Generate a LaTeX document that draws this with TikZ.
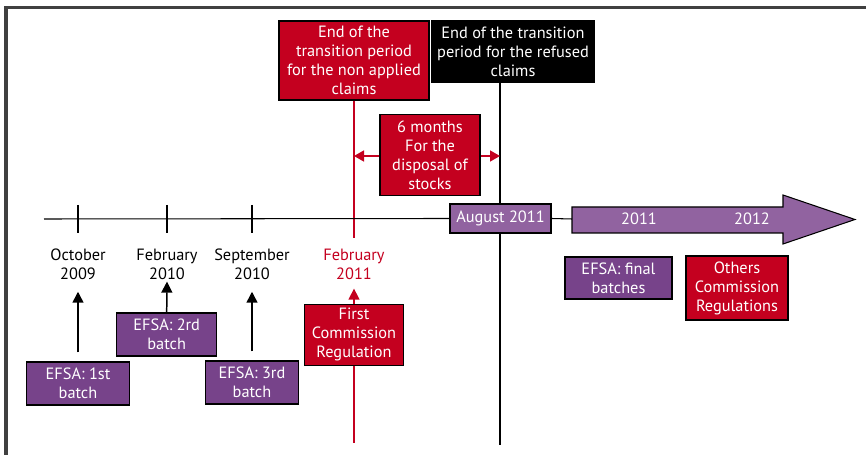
\documentclass[tikz,border=0pt]{standalone}
\usepackage{fontspec}
\setmainfont{PT Sans}
\usetikzlibrary{arrows.meta}

\definecolor{eured}{RGB}{196,0,31}
\definecolor{efsapurple}{RGB}{119,67,138}
\definecolor{lightpurple}{RGB}{145,99,160}
\definecolor{framegray}{RGB}{64,64,64}

\newcommand{\lblfont}{\fontsize{9.3}{10.8}\selectfont}

\tikzset{
  box/.style={draw=black, line width=0.6pt, text=white, align=center,
    inner sep=0pt, font=\lblfont},
  redbox/.style={box, fill=eured},
  purplebox/.style={box, fill=efsapurple},
  datelabel/.style={align=center, inner sep=0pt, font=\lblfont},
  uparrow/.style={-{Triangle[width=0.22cm,length=0.22cm]}, line width=0.85pt}
}

\begin{document}
\begin{tikzpicture}[x=0.02cm, y=-0.02cm]
  \useasboundingbox (0,0) rectangle (866,455);
  % frame
  \draw[framegray, line width=2.2pt] (6,455) -- (6,7.5) -- (866,7.5);

  % top boxes
  \node[redbox, minimum width=3cm, minimum height=1.58cm] (endred) at (354,60.5)
    {End of the\\transition period\\for the non applied\\claims};
  \node[box, fill=black, draw=black, minimum width=3.24cm, minimum height=1.22cm] (endblack) at (513,51.5)
    {End of the transition\\period for the refused\\claims};

  \coordinate (redend) at (354,443);
  \coordinate (blackend) at (500,445);
  \coordinate (lineleft) at (44,219);

  % vertical lines
  \draw[eured, line width=0.7pt] (endred.south) -- (354,238);
  \draw[black, line width=0.7pt] (endblack.south -| blackend) -- (blackend);

  % 6 months
  \draw[eured, line width=0.85pt, {Triangle[width=0.22cm,length=0.2cm]}-{Triangle[width=0.22cm,length=0.2cm]}]
    (354,156) -- (500,156);
  \node[redbox, minimum width=2cm, minimum height=1.62cm] (sixm) at (430,155)
    {6 months\\For the\\disposal of\\stocks};

  % timeline
  \node[box, fill=lightpurple, minimum width=2.02cm, minimum height=0.58cm] (aug) at (500.5,218.5) {August 2011};
  \draw[line width=0.6pt] (lineleft) -- (aug.west);
  \draw[line width=0.6pt] (aug.east) -- (572,219);
  \foreach \tx in {78,167,252}
    \draw[line width=0.6pt] (\tx,205) -- (\tx,233);

  % big arrow
  \draw[fill=lightpurple, line width=0.6pt] (572,207) -- (783,207) -- (783,195) -- (855,219.5)
    -- (783,244) -- (783,233) -- (572,233) -- cycle;
  \node[datelabel, text=white] (y2011) at (639,219) {2011};
  \node[datelabel, text=white] (y2012) at (752,219) {2012};

  % dates
  \node[datelabel] (oct09) at (78,264) {October\\2009};
  \node[datelabel] (feb10) at (167,264) {February\\2010};
  \node[datelabel] (sep10) at (252,264) {September\\2010};
  \node[datelabel, text=eured] (feb11) at (354,264) {February\\2011};

  % boxes below
  \node[purplebox, minimum width=2.06cm, minimum height=0.86cm] (efsa1) at (78,383.5) {EFSA: 1st\\batch};
  \node[purplebox, minimum width=2cm, minimum height=0.86cm] (efsa2) at (166.7,334.5) {EFSA: 2rd\\batch};
  \node[purplebox, minimum width=1.86cm, minimum height=0.86cm] (efsa3) at (252,382.5) {EFSA: 3rd\\batch};
  \node[redbox, minimum width=1.98cm, minimum height=1.22cm] (first) at (354,334.7) {First\\Commission\\Regulation};
  \node[purplebox, minimum width=2.14cm, minimum height=0.84cm] (final) at (618.5,278) {EFSA: final\\batches};
  \node[redbox, minimum width=2.04cm, minimum height=1.28cm] (others) at (737,288) {Others\\Commission\\Regulations};

  \draw[uparrow, shorten <=0.18cm, shorten >=0.24cm] (efsa1.north) -- (oct09.south);
  \draw[uparrow, shorten >=0.04cm] (efsa2.north) -- (feb10.south);
  \draw[uparrow, shorten <=0.18cm, shorten >=0.24cm] (efsa3.north) -- (sep10.south);
  \draw[uparrow, eured, shorten >=0.18cm] (first.north) -- (feb11.south);
  \draw[eured, line width=0.7pt] (first.south) -- (redend);

\end{tikzpicture}
\end{document}
